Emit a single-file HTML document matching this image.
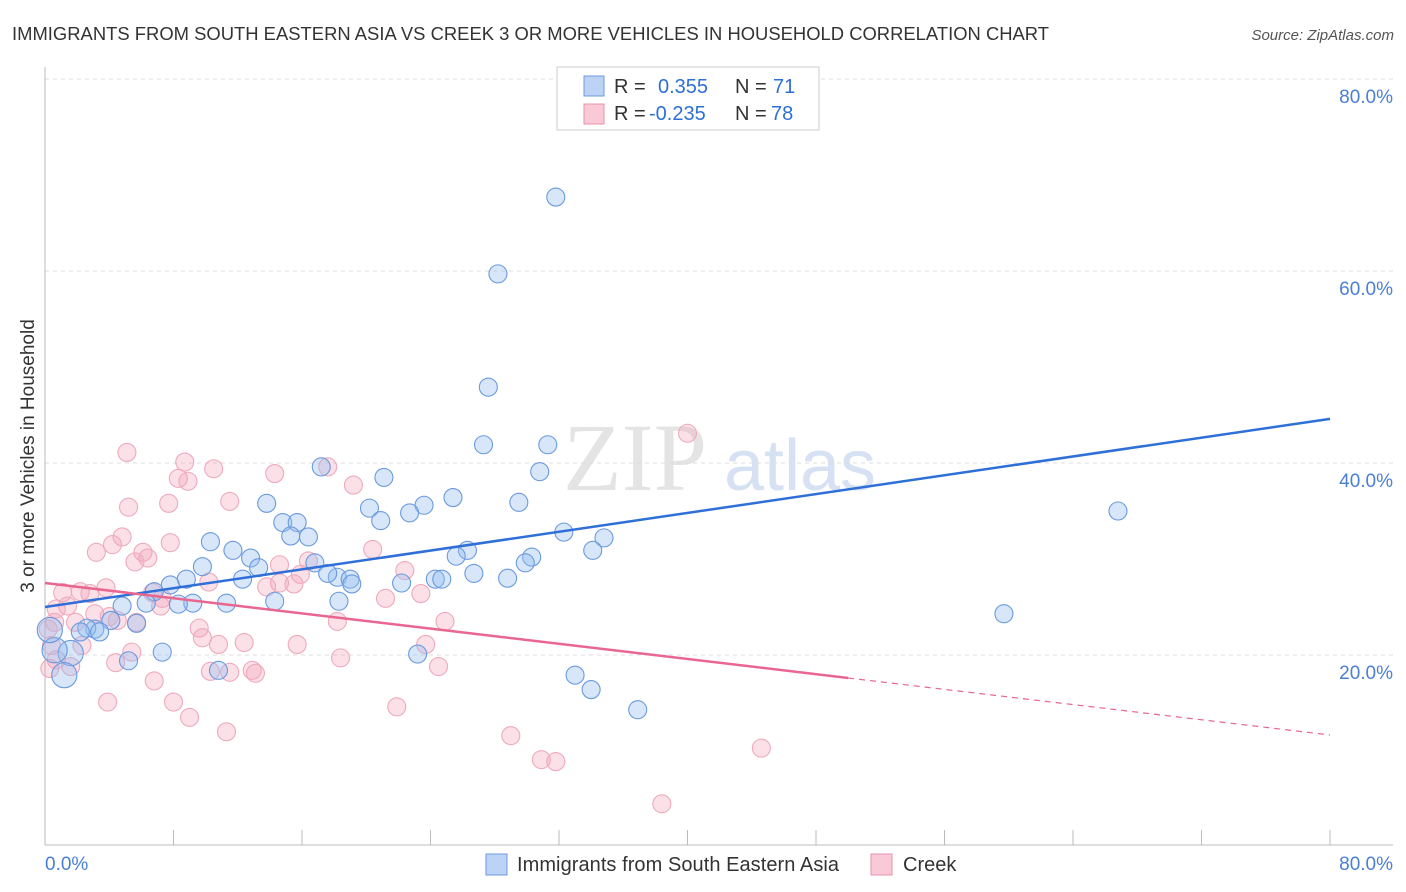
<!DOCTYPE html>
<html><head><meta charset="utf-8"><style>
body{margin:0;background:#fff;font-family:"Liberation Sans",sans-serif}
svg{display:block}
</style></head><body>
<svg id="chart" width="1406" height="892">
<text x="12" y="40" font-size="18.4" fill="#333" textLength="1037">IMMIGRANTS FROM SOUTH EASTERN ASIA VS CREEK 3 OR MORE VEHICLES IN HOUSEHOLD CORRELATION CHART</text>
<text x="1394" y="40" font-size="15" font-style="italic" fill="#555" text-anchor="end">Source: ZipAtlas.com</text>
<g>
<text x="635" y="490" font-size="96" font-family="Liberation Serif" fill="#e4e4e4" text-anchor="middle">ZIP</text>
<text x="800" y="490" font-size="72" fill="#d6e2f3" text-anchor="middle">atlas</text>
</g>
<g id="grid"></g>
<g id="axes"></g>
<g id="points"></g>
<g id="trends"></g>
<text transform="translate(34,456) rotate(-90)" font-size="19" fill="#333" text-anchor="middle">3 or more Vehicles in Household</text>
<g>
<rect x="557" y="67" width="262" height="63" fill="#fff" stroke="#ccc"/>
<rect x="584" y="76" width="20" height="20" fill="#bcd3f5" stroke="#6c9ae0"/>
<rect x="584" y="104" width="20" height="20" fill="#f9c9d7" stroke="#e893ab"/>
<text y="93" font-size="20" fill="#333"><tspan x="614">R =</tspan><tspan x="658" fill="#2e6fd6">0.355</tspan><tspan x="735">N =</tspan><tspan x="773" fill="#2e6fd6">71</tspan></text>
<text y="120" font-size="20" fill="#333"><tspan x="614">R =</tspan><tspan x="649" fill="#2e6fd6">-0.235</tspan><tspan x="735">N =</tspan><tspan x="771" fill="#2e6fd6">78</tspan></text>
</g>
<g>
<rect x="486" y="854" width="21" height="21" fill="#bcd3f5" stroke="#6c9ae0"/>
<text x="517" y="871" font-size="20" fill="#333" textLength="322">Immigrants from South Eastern Asia</text>
<rect x="871" y="854" width="21" height="21" fill="#f9c9d7" stroke="#e893ab"/>
<text x="903" y="871" font-size="20" fill="#333">Creek</text>
</g>
</svg>
<script>
const yTicks=[20,40,60,80];
const yTickLabels=["20.0%","40.0%","60.0%","80.0%"];
const xTickLabels=["0.0%","80.0%"];
const blueX=[31.8,28.2,27.6,27.3,31.3,30.8,21.1,17.2,25.4,29.5,20.2,23.6,22.7,20.9,13.8,14.8,15.7,15.3,16.4,32.3,34.8,34.1,26.3,25.6,30.3,29.9,10.3,11.7,12.8,13.3,9.8,16.8,12.3,8.8,7.8,6.8,18.2,17.6,19.0,19.1,26.7,28.8,24.3,24.7,22.2,18.3,14.3,11.3,9.2,8.3,6.3,4.8,4.1,5.7,3.1,2.6,2.2,7.3,5.2,10.8,23.2,33.0,34.0,36.9,66.8,59.7,3.4,1.6,0.6,1.2,0.3];
const blueY=[67.7,59.7,47.9,41.9,41.9,39.1,38.5,39.6,36.4,35.9,35.3,35.6,34.8,34.0,35.8,33.8,33.8,32.4,32.3,32.8,32.2,30.9,30.9,30.3,30.2,29.6,31.8,30.9,30.1,29.1,29.2,29.6,27.9,27.9,27.3,26.6,28.1,28.5,27.9,27.4,28.5,28.0,27.9,27.9,27.5,25.6,25.6,25.4,25.4,25.3,25.4,25.1,23.6,23.3,22.7,22.8,22.4,20.3,19.4,18.4,20.1,17.9,16.4,14.3,35.0,24.3,22.4,20.2,20.5,17.9,22.6];
const blueSize=[1,1,1,1,1,1,1,1,1,1,1,1,1,1,1,1,1,1,1,1,1,1,1,1,1,1,1,1,1,1,1,1,1,1,1,1,1,1,1,1,1,1,1,1,1,1,1,1,1,1,1,1,1,1,1,1,1,1,1,1,1,1,1,1,1,1,1,1.4,1.4,1.4,1.4];
const pinkX=[5.1,8.7,10.5,14.3,17.6,8.3,8.9,19.2,11.5,7.7,5.2,7.8,4.8,4.2,3.2,6.1,6.4,5.6,16.4,20.4,14.6,22.4,15.9,14.6,10.2,13.8,15.5,3.8,1.1,2.2,2.8,6.7,7.3,7.2,21.2,23.4,1.4,0.7,3.1,4.0,4.5,0.6,1.9,5.7,18.2,24.9,0.2,9.6,9.8,10.8,12.4,15.7,23.7,2.3,5.4,0.7,0.3,4.4,10.3,11.5,12.9,13.1,18.4,24.5,6.8,8.0,3.9,9.0,11.3,21.9,29.0,30.9,31.8,38.4,44.6,40.0,0.4,1.6];
const pinkY=[41.1,40.1,39.4,38.9,39.6,38.4,38.1,37.7,36.0,35.8,35.4,31.7,32.3,31.5,30.7,30.7,30.1,29.7,29.8,31.0,29.4,28.8,28.4,27.5,27.6,27.1,27.4,27.0,26.5,26.6,26.4,26.5,25.9,25.1,25.9,26.4,25.1,24.8,24.3,24.0,23.6,23.4,23.4,23.4,23.5,23.5,22.7,22.8,21.8,21.1,21.3,21.1,21.1,21.0,20.3,19.5,18.6,19.2,18.3,18.2,18.4,18.1,19.7,18.8,17.3,15.1,15.1,13.5,12.0,14.6,11.6,9.1,8.9,4.5,10.3,43.1,21.0,18.8];
const blueTrend=[25.0,44.6];
const pinkTrend=[27.5,11.67];
const pinkSolidEnd=50;
const NS="http://www.w3.org/2000/svg";
const X=v=>45+v/80*1285;
const Y=v=>847-v*9.6;
function mk(tag,attrs,parent){const e=document.createElementNS(NS,tag);for(const k in attrs)e.setAttribute(k,attrs[k]);document.getElementById(parent).appendChild(e);return e;}
yTicks.forEach((t,i)=>{
 const g=mk('line',{x1:45,x2:1393,y1:Y(t),y2:Y(t),stroke:'#ddd','stroke-dasharray':'4,4'},'grid');
 
 
 const l=mk('text',{x:1393,y:Y(t)+24,'font-size':19,fill:'#4a7fd4','text-anchor':'end'},'axes');
 l.textContent=yTickLabels[i];
 
 
});
const ax=mk('line',{x1:45,x2:45,y1:67,y2:845,stroke:'#bbb'},'axes');


const bx=mk('line',{x1:45,x2:1393,y1:845,y2:845,stroke:'#bbb'},'axes');


for(let i=0;i<=10;i++){const t=mk('line',{x1:X(i*8),x2:X(i*8),y1:830,y2:845,stroke:'#bbb'},'axes');
 
 }
const xl0=mk('text',{x:45,y:870,'font-size':19,fill:'#4a7fd4'},'axes');xl0.textContent=xTickLabels[0];


const xl1=mk('text',{x:1393,y:870,'font-size':19,fill:'#4a7fd4','text-anchor':'end'},'axes');xl1.textContent=xTickLabels[1];


pinkX.forEach((v,i)=>{const c=mk('circle',{cx:X(v),cy:Y(pinkY[i]),r:9,fill:'rgba(244,160,185,0.33)',stroke:'#eeaabd','stroke-width':1.1},'points');
 
 });
blueX.forEach((v,i)=>{const c=mk('circle',{cx:X(v),cy:Y(blueY[i]),r:9*blueSize[i],fill:'rgba(150,190,240,0.38)',stroke:'#6a9ade','stroke-width':1.1},'points');
 
 });
const bt=mk('line',{x1:X(0),y1:Y(blueTrend[0]),x2:X(80),y2:Y(blueTrend[1]),stroke:'#2f6fd8','stroke-width':2.5},'trends');


const py=x=>pinkTrend[0]+(pinkTrend[1]-pinkTrend[0])*x/80;
const pt=mk('line',{x1:X(0),y1:Y(pinkTrend[0]),x2:X(pinkSolidEnd),y2:Y(py(pinkSolidEnd)),stroke:'#e8668f','stroke-width':2.5},'trends');


const pd=mk('line',{x1:X(pinkSolidEnd),y1:Y(py(pinkSolidEnd)),x2:X(80),y2:Y(pinkTrend[1]),stroke:'#e8668f','stroke-width':1.2,'stroke-dasharray':'6,5'},'trends');


</script>
</body></html>
